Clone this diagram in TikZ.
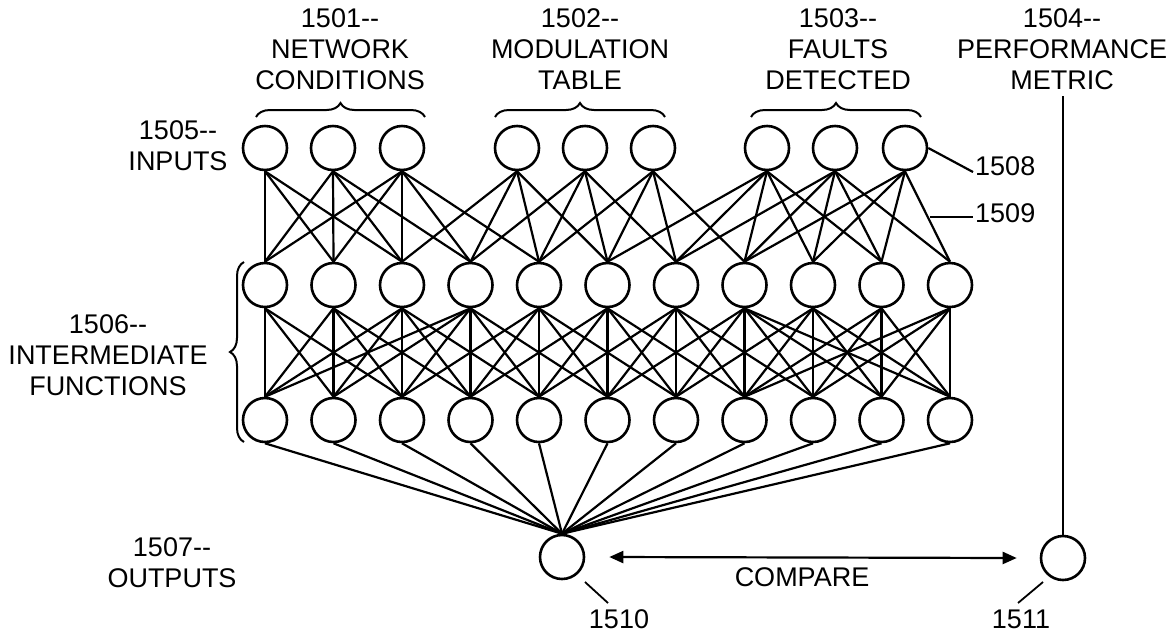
\documentclass[tikz,border=0pt]{standalone}
\usepackage{fontspec}
\setmainfont{Liberation Sans}
\usetikzlibrary{decorations.pathreplacing,arrows.meta,calc}
\begin{document}
\begin{tikzpicture}[x=1pt,y=-1pt,
  neuron/.style={circle,draw,line width=2.6pt,minimum size=44pt,inner sep=0pt,fill=white},
  link/.style={line width=2.2pt},
  thinlink/.style={line width=1.8pt},
  lbl/.style={font=\fontsize{27}{31}\selectfont,align=center,inner sep=0pt},
  brc/.style={decorate,decoration={brace,amplitude=14pt},line width=2pt}]
\useasboundingbox (0,0) rectangle (1169,633);
% nodes
\foreach \x [count=\i] in {265,333,402,517,585,653,767,835,905}
  \node[neuron] (in\i) at (\x,148) {};
\foreach \i in {1,...,11}
  \node[neuron] (a\i) at ({265+68.5*(\i-1)},285) {};
\foreach \i in {1,...,11}
  \node[neuron] (b\i) at ({265+68.5*(\i-1)},420) {};
\node[neuron] (out) at (562,557) {};
\node[neuron] (tgt) at (1063,558) {};
% inputs -> layer 1
\foreach \s/\ts in {1/{1,2,3},2/{1,2,3,4},3/{1,2,3,4,5},4/{3,4,5,6},5/{4,5,6,7},6/{5,6,7,8},7/{6,7,8,9,10},8/{7,8,9,10,11},9/{8,9,10,11}}
  \foreach \t in \ts \draw[link] (in\s.south) -- (a\t.north);
% layer 1 -> layer 2
\foreach \s/\ts in {1/{1,2,3},2/{1,2,3,4},3/{1,2,3,4,5},4/{1,2,3,4,5,6},5/{3,4,5,6,7},6/{4,5,6,7,8},7/{5,6,7,8,9},8/{6,7,8,9,10,11},9/{7,8,9,10,11},10/{8,9,10,11},11/{8,9,10,11}}
  \foreach \t in \ts \draw[link] (a\s.south) -- (b\t.north);
% layer 2 -> output
\foreach \i in {1,...,11}
  \draw[link] (b\i.south) -- (out.north);
% labels
\node[lbl] (t1501) at (340,49) {1501-{}-\\NETWORK\\CONDITIONS};
\node[lbl] (t1502) at (580,49) {1502-{}-\\MODULATION\\TABLE};
\node[lbl] (t1503) at (838,49) {1503-{}-\\FAULTS\\DETECTED};
\node[lbl] (t1504) at (1062,49) {1504-{}-\\PERFORMANCE\\METRIC};
\node[lbl] (t1505) at (178,146) {1505-{}-\\INPUTS};
\node[lbl] (t1506) at (108,355) {1506-{}-\\INTERMEDIATE\\FUNCTIONS};
\node[lbl] (t1507) at (172,563) {1507-{}-\\OUTPUTS};
\node[lbl,anchor=west] (t1508) at (975,166) {1508};
\node[lbl,anchor=west] (t1509) at (975,213) {1509};
\node[lbl] (t1510) at (619,619) {1510};
\node[lbl] (t1511) at (1021,619) {1511};
\node[lbl] (tcmp) at (802,577) {COMPARE};
% braces
\draw[brc] (256,117) -- (425,117);
\draw[brc] (495,117) -- (665,117);
\draw[brc] (751,117) -- (921,117);
\draw[brc] (244,442) -- (244,262);
% performance metric line
\draw[thinlink] (1063,96) -- (tgt.north);
% compare arrow
\draw[link,{Triangle[length=14pt,width=12pt]}-{Triangle[length=14pt,width=12pt]}] ([xshift=24pt]out.east) -- ([xshift=-23pt]tgt.west);
% leaders
\coordinate (c1509) at (930,217);
\draw[link] (in9.east) -- (973,172);
\draw[link] (c1509) -- (973,217);
\draw[thinlink] (585,582) -- (608,603);
\draw[thinlink] (1043,582) -- (1018,603);
\end{tikzpicture}
\end{document}
